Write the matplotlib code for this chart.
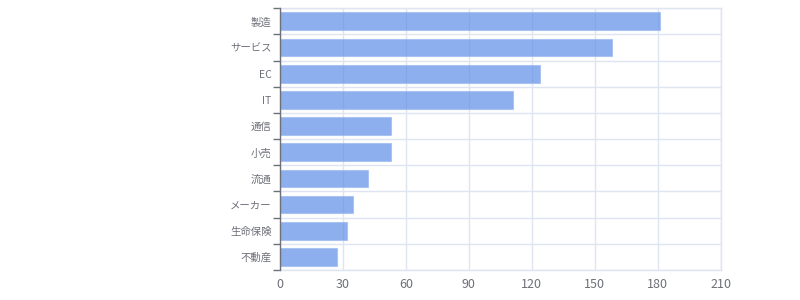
import matplotlib
matplotlib.use("Agg")
import matplotlib.pyplot as plt
import numpy as np

plt.rcParams['font.family'] = ['Noto Sans CJK JP', 'DejaVu Sans']

categories = ['製造', 'サービス', 'EC', 'IT', '通信', '小売', '流通', 'メーカー', '生命保険', '不動産']
values = [181, 158, 124, 111, 53, 53, 42, 35, 32, 27]
x_ticks = [0, 30, 60, 90, 120, 150, 180, 210]

grid_color = '#dfe4f1'

fig = plt.figure(figsize=(8, 3), dpi=100)
ax = fig.add_axes([0.35, 0.1, 0.551, 0.8723])

y = np.arange(len(categories))
ax.barh(y, values, height=0.68, color='#5f8ee7', alpha=0.7,
        edgecolor='#9fbaf0', linewidth=0.8, zorder=3)

ax.set_xlim(0, 210)
ax.set_ylim(len(categories) - 0.5, -0.5)
ax.set_xticks(x_ticks)
ax.set_xticklabels([str(t) for t in x_ticks], fontsize=9, color='#6e7079')
ax.set_yticks(y)
ax.set_yticklabels(categories, fontsize=7.5, color='#6e7079')
ax.set_yticks(np.arange(-0.5, len(categories), 1), minor=True)

ax.tick_params(axis='x', length=0, pad=6)
ax.tick_params(axis='y', which='major', length=0, pad=6)
ax.tick_params(axis='y', which='minor', length=5, width=1, color='#6e7079', direction='out')

ax.grid(axis='x', which='major', color=grid_color, linewidth=1, zorder=0)
ax.grid(axis='y', which='minor', color=grid_color, linewidth=1, zorder=0)
ax.set_axisbelow(True)

for s in ['top', 'right', 'bottom']:
    ax.spines[s].set_color(grid_color)
    ax.spines[s].set_linewidth(1)
ax.spines['left'].set_color('#6e7079')
ax.spines['left'].set_linewidth(1)
ax.spines['left'].set_zorder(5)

fig.savefig('out.png', dpi=100)
